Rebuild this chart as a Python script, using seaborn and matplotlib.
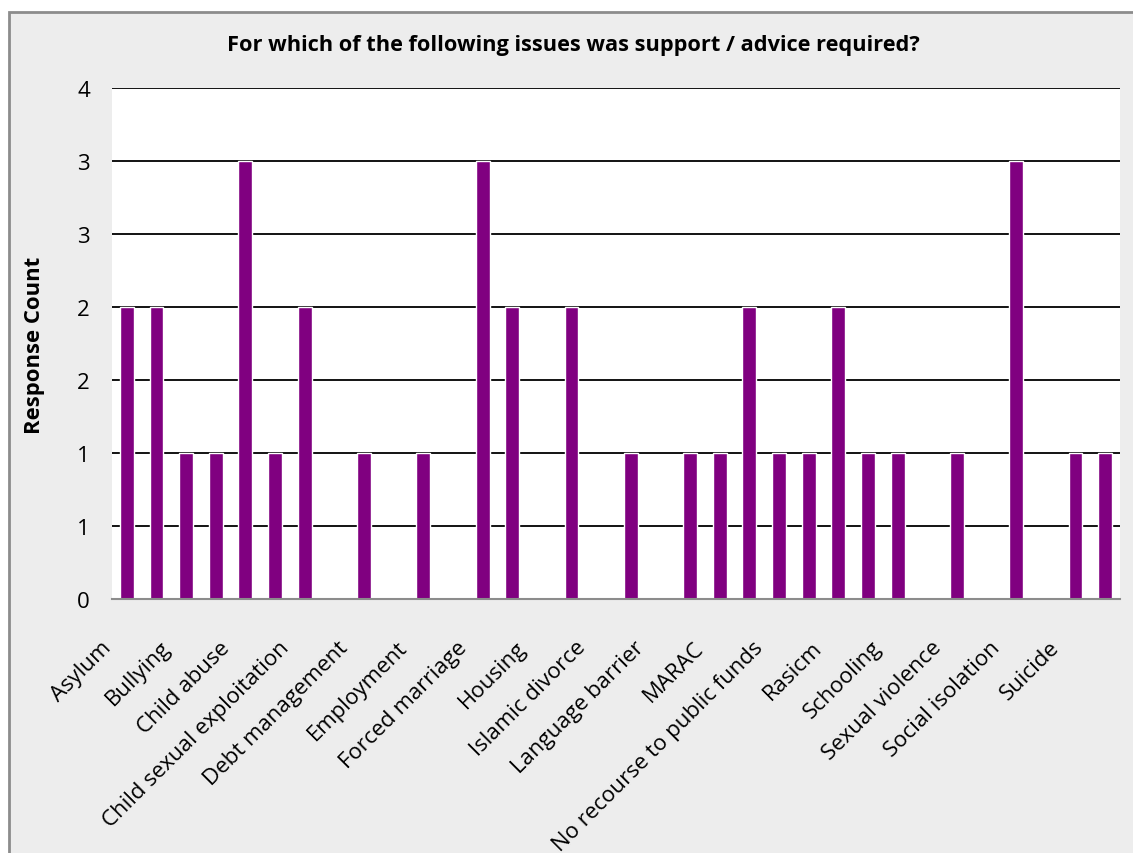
import numpy as np
import pandas as pd
import seaborn as sns
import matplotlib.pyplot as plt
import matplotlib.transforms as mtransforms
from matplotlib.patches import Rectangle
from matplotlib.ticker import FuncFormatter, FixedLocator

# issues (only every other category name is printed on the original axis)
categories = [
    'Asylum', '', 'Bullying', '', 'Child abuse', '', 'Child sexual exploitation', '',
    'Debt management', '', 'Employment', '', 'Forced marriage', '', 'Housing', '',
    'Islamic divorce', '', 'Language barrier', '', 'MARAC', '',
    'No recourse to public funds', '', 'Rasicm', '', 'Schooling', '',
    'Sexual violence', '', 'Social isolation', '', 'Suicide', '',
]
counts = [2, 2, 1, 1, 3, 1, 2, 0, 1, 0, 1, 0, 3, 2, 0, 2, 0,
          1, 0, 1, 1, 2, 1, 1, 2, 1, 1, 0, 1, 0, 3, 0, 1, 1]
y_ticks = [0, 0.5, 1, 1.5, 2, 2.5, 3, 3.5]

title = 'For which of the following issues was support / advice required?'
ylabel = 'Response Count'

df = pd.DataFrame({'pos': np.arange(len(counts)), 'count': counts})

sns.set_style('white')
plt.rcParams['font.family'] = ['Open Sans', 'DejaVu Sans']
plt.rcParams['text.color'] = 'black'
plt.rcParams['xtick.color'] = 'black'
plt.rcParams['ytick.color'] = 'black'
plt.rcParams['axes.labelcolor'] = 'black'

W, H = 1133, 854
fig = plt.figure(figsize=(W / 100, H / 100), dpi=100)
fig.patch.set_facecolor('white')

# grey chart area with border on the left / top
fig.patches.append(Rectangle((9 / W, -0.2), 1.2, 1 - 13 / H + 0.2, transform=fig.transFigure,
                             facecolor='#EDEDED', edgecolor='#8C8C8C', linewidth=2, zorder=-10))

ax = fig.add_axes([112 / W, 1 - 600 / H, (1120 - 112) / W, (600 - 89) / H])
ax.set_zorder(1)
ax.set_facecolor('white')

sns.barplot(data=df, x='pos', y='count', color='#800080', saturation=1, width=0.47, ax=ax, zorder=3)

ax.set_xlim(-0.5, len(counts) - 0.5)
ax.set_ylim(0, 3.5)

# gridlines
ax.yaxis.set_major_locator(FixedLocator(y_ticks))
for v in y_ticks[1:]:
    ax.axhline(v, color='black', linewidth=1.3, zorder=1)
ax.yaxis.set_major_formatter(FuncFormatter(lambda v, p: str(int(np.floor(v + 0.5)))))
ax.tick_params(axis='y', length=0, pad=16, labelsize=16)

for s in ['left', 'right', 'top']:
    ax.spines[s].set_visible(False)
ax.spines['bottom'].set_color('#8C8C8C')
ax.spines['bottom'].set_linewidth(1.5)
ax.spines['bottom'].set_zorder(4)

# category boundary ticks
ax.set_xticks(np.arange(len(counts) + 1) - 0.5, minor=True)
ax.tick_params(axis='x', which='minor', length=6, width=1.2, color='#8C8C8C', direction='out')
ax.set_xticks(df['pos'])
ax.set_xticklabels(categories, rotation=45, ha='right', va='center', rotation_mode='anchor', fontsize=16)
ax.tick_params(axis='x', which='major', length=0, pad=32.5)
shift = mtransforms.ScaledTranslation(-19 / 100, 0, fig.dpi_scale_trans)
for lab in ax.get_xticklabels():
    lab.set_transform(lab.get_transform() + shift)

ax.set_xlabel('')
ax.set_ylabel(ylabel, fontsize=15.9, fontweight='bold')
ax.yaxis.set_label_coords((45 - 112) / (1120 - 112), (600 - 345) / (600 - 89))

fig.text(573 / W, 1 - 46 / H, title, ha='center', va='center', fontsize=15.7, fontweight='bold')

fig.savefig('out.png', dpi=100)
